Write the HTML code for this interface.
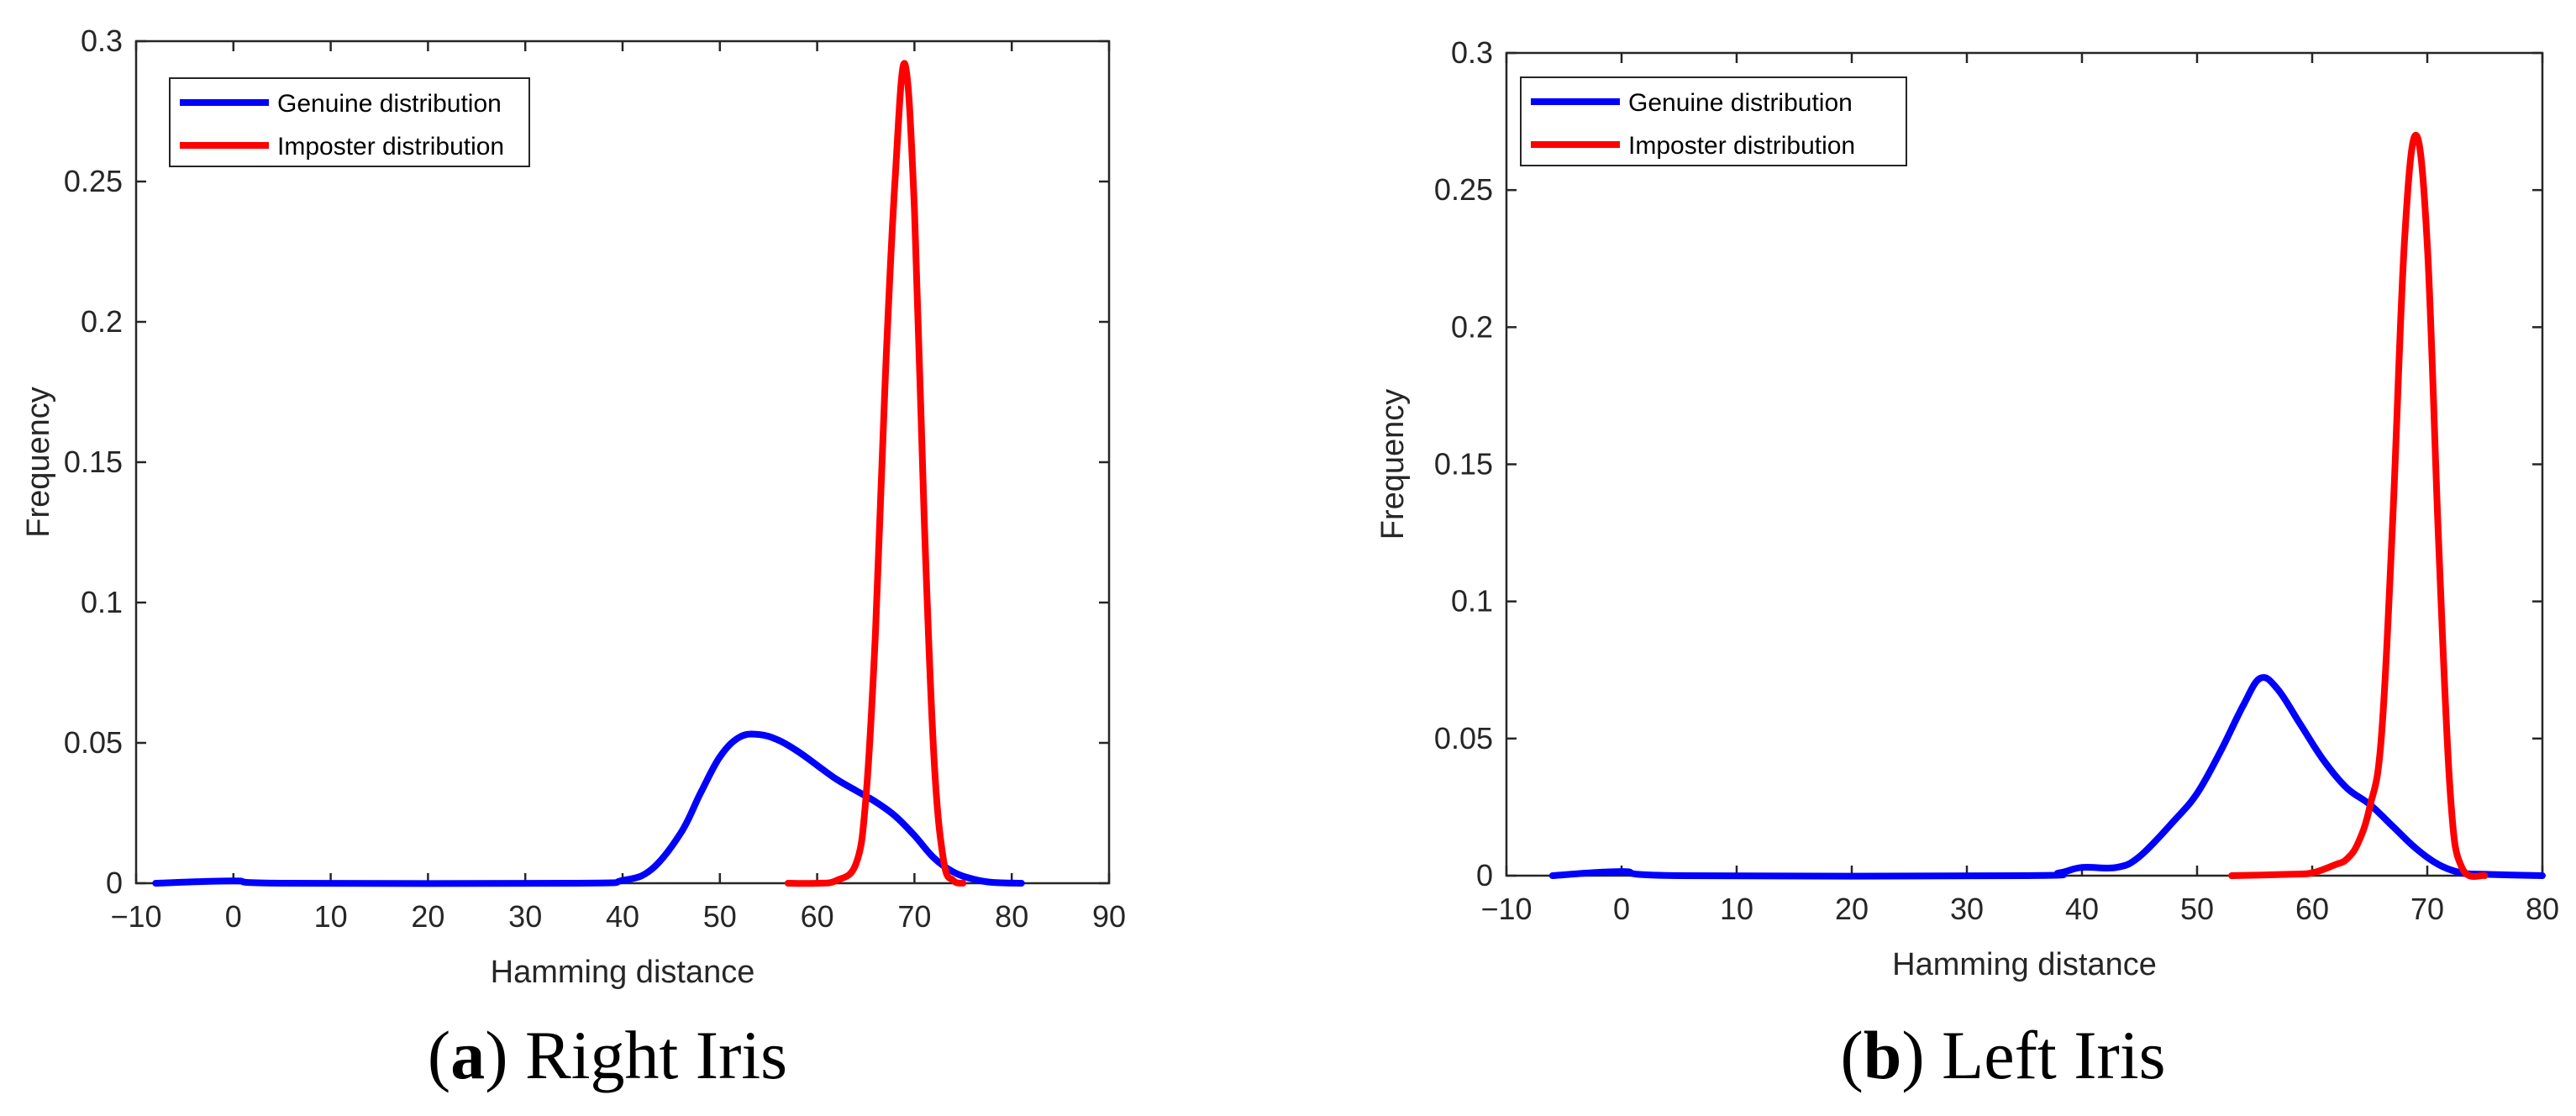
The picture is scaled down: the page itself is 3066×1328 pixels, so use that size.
<!DOCTYPE html>
<html><head><meta charset="utf-8"><style>
body{margin:0;background:#fff}
svg{display:block}
</style></head><body>
<svg id="fig" width="3066" height="1328" viewBox="0 0 3066 1328" xmlns="http://www.w3.org/2000/svg">
<rect width="3066" height="1328" fill="#fff"/>
<text x="723" y="1283" font-family="Liberation Serif, serif" font-size="82" text-anchor="middle" fill="#000">(<tspan font-weight="bold">a</tspan>) Right Iris</text>
<text x="2384" y="1283" font-family="Liberation Serif, serif" font-size="82" text-anchor="middle" fill="#000">(<tspan font-weight="bold">b</tspan>) Left Iris</text>
</svg>
<script>
// Right iris (a)
const aGenX=[-8,0,5,35,40,43,46,48,50,52,54,56,58,60,62,64,66,68,70,72,74,76,78,81];
const aGenY=[0,0.0008,0,0,0.001,0.005,0.018,0.032,0.045,0.052,0.053,0.051,0.047,0.042,0.037,0.033,0.029,0.024,0.017,0.009,0.004,0.0015,0.0003,0];
const aImpX=[57,60,62,64,65,66,67,68,69,70,71,72,73,74,75];
const aImpY=[0,0,0.001,0.007,0.03,0.09,0.18,0.25,0.292,0.24,0.13,0.045,0.008,0.001,0];
const aXTicks=[-10,0,10,20,30,40,50,60,70,80,90];
// Left iris (b)
const bGenX=[-6,0,5,35,38,40,43,45,48,50,52,54,55.5,57,59,61,63,65,67,69,71,73,75,80];
const bGenY=[0,0.0015,0,0,0.001,0.003,0.003,0.007,0.02,0.03,0.045,0.062,0.072,0.068,0.055,0.042,0.032,0.026,0.018,0.01,0.004,0.001,0.0005,0];
const bImpX=[53,58,60,62,63,64,65,66,67,68,69,70,71,72,73,75];
const bImpY=[0,0.0005,0.001,0.004,0.006,0.012,0.025,0.05,0.13,0.23,0.27,0.23,0.12,0.03,0.003,0];
const bXTicks=[-10,0,10,20,30,40,50,60,70,80];
const yTicks=[0,0.05,0.1,0.15,0.2,0.25,0.3];
const yLabels=['0','0.05','0.1','0.15','0.2','0.25','0.3'];

const NS='http://www.w3.org/2000/svg';
const svg=document.getElementById('fig');
function mk(tag,attrs,parent){const e=document.createElementNS(NS,tag);for(const k in attrs)e.setAttribute(k,attrs[k]);(parent||svg).appendChild(e);return e;}
function smoothPath(P){
  let d='M'+P[0][0].toFixed(1)+','+P[0][1].toFixed(1);
  for(let i=0;i<P.length-1;i++){
    const p0=P[Math.max(0,i-1)],p1=P[i],p2=P[i+1],p3=P[Math.min(P.length-1,i+2)];
    const t=0.18;
    const c1=[p1[0]+(p2[0]-p0[0])*t,p1[1]+(p2[1]-p0[1])*t];
    const c2=[p2[0]-(p3[0]-p1[0])*t,p2[1]-(p3[1]-p1[1])*t];
    d+=' C'+c1[0].toFixed(1)+','+c1[1].toFixed(1)+' '+c2[0].toFixed(1)+','+c2[1].toFixed(1)+' '+p2[0].toFixed(1)+','+p2[1].toFixed(1);
  }
  return d;
}

function drawPanel(p){
  const g=mk('g',{});
  
  
  const sx=v=>p.L+(v-p.xmin)/(p.xmax-p.xmin)*(p.R-p.L);
  const sy=v=>p.B-(v/0.3)*(p.B-p.T);
  const box=mk('rect',{x:p.L,y:p.T,width:p.R-p.L,height:p.B-p.T,fill:'none',stroke:'#262626','stroke-width':2.5},g);
  
  
  p.xt.forEach(t=>{
    const x=sx(t);
    mk('line',{x1:x,x2:x,y1:p.B,y2:p.B-12,stroke:'#262626','stroke-width':2.5},g);
    mk('line',{x1:x,x2:x,y1:p.T,y2:p.T+12,stroke:'#262626','stroke-width':2.5},g);
    const tx=mk('text',{x:x,y:p.B+52,'font-family':'Liberation Sans, sans-serif','font-size':36,'text-anchor':'middle',fill:'#262626'},g);
    tx.textContent=t<0?'\u2212'+(-t):String(t);
    
    
  });
  yTicks.forEach((t,i)=>{
    const y=sy(t);
    mk('line',{x1:p.L,x2:p.L+12,y1:y,y2:y,stroke:'#262626','stroke-width':2.5},g);
    mk('line',{x1:p.R,x2:p.R-12,y1:y,y2:y,stroke:'#262626','stroke-width':2.5},g);
    const ty=mk('text',{x:p.L-16,y:y+12,'font-family':'Liberation Sans, sans-serif','font-size':36,'text-anchor':'end',fill:'#262626'},g);
    ty.textContent=yLabels[i];
    
    
  });
  const xt=mk('text',{x:(p.L+p.R)/2,y:p.B+118,'font-family':'Liberation Sans, sans-serif','font-size':38,'text-anchor':'middle',fill:'#262626'},g);
  xt.textContent='Hamming distance';
  
  
  const yt=mk('text',{x:0,y:0,transform:`translate(${p.yTitleX},${(p.T+p.B)/2}) rotate(-90)`,'font-family':'Liberation Sans, sans-serif','font-size':38,'text-anchor':'middle',fill:'#262626'},g);
  yt.textContent='Frequency';
  
  
  const series=[[p.gx,p.gy,'#0000ff','genuine-line'],[p.ix,p.iy,'#ff0000','imposter-line']];
  series.forEach(s=>{
    const pts=s[0].map((v,i)=>[sx(v),sy(s[1][i])]);
    const pl=mk('path',{d:smoothPath(pts),fill:'none',stroke:s[2],'stroke-width':8,'stroke-linejoin':'round','stroke-linecap':'round'},g);
    
    
  });
  const lg=mk('g',{},g);
  
  
  mk('rect',{x:p.lgX,y:p.lgY,width:p.lgW,height:105,fill:'#fff',stroke:'#262626','stroke-width':2},lg);
  [['Genuine distribution','#0000ff',29],['Imposter distribution','#ff0000',80]].forEach(e=>{
    const y=p.lgY+e[2];
    mk('line',{x1:p.lgX+12,x2:p.lgX+118,y1:y,y2:y,stroke:e[1],'stroke-width':8},lg);
    const t=mk('text',{x:p.lgX+128,y:y+11,'font-family':'Liberation Sans, sans-serif','font-size':30,fill:'#000'},lg);
    t.textContent=e[0];
    
    
  });
}
drawPanel({name:'right-iris-chart',L:162,R:1320,T:49,B:1051,xmin:-10,xmax:90,xt:aXTicks,gx:aGenX,gy:aGenY,ix:aImpX,iy:aImpY,yTitleX:58,lgX:202,lgY:93,lgW:428});
drawPanel({name:'left-iris-chart',L:1793,R:3026,T:63,B:1042,xmin:-10,xmax:80,xt:bXTicks,gx:bGenX,gy:bGenY,ix:bImpX,iy:bImpY,yTitleX:1670,lgX:1810,lgY:92,lgW:459});
</script>
</body></html>
